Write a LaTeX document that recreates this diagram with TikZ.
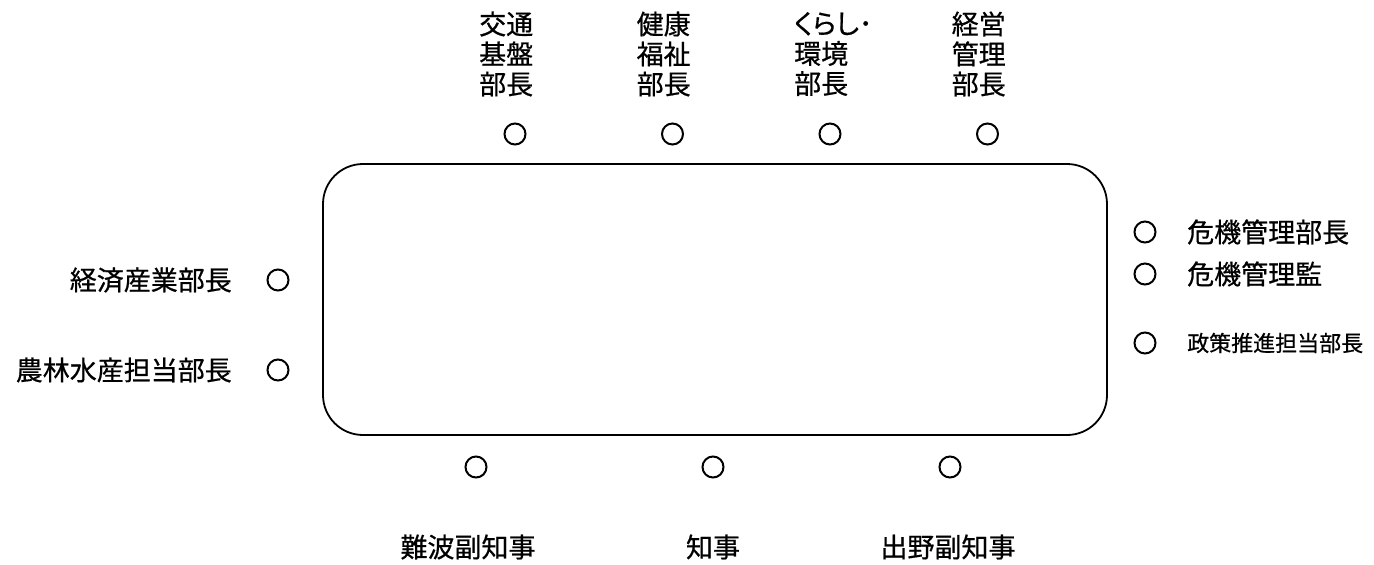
\documentclass[tikz,border=0pt]{standalone}
\usepackage{fontspec}
\setmainfont{Noto Sans CJK JP}[FakeBold=0.6]
\usepackage{tikz}
\usetikzlibrary{positioning}

\tikzset{
  seat/.style={draw, circle, line width=2pt, minimum size=21pt, inner sep=0pt},
  seattext/.style={inner sep=0pt, font=\fontsize{27}{30}\selectfont},
  seattextsmall/.style={inner sep=0pt, font=\fontsize{22}{24}\selectfont},
}

\begin{document}
\begin{tikzpicture}[x=1pt, y=-1pt]
  \useasboundingbox (0,0) rectangle (1374,565);
  % table
  \draw[line width=1.8pt, rounded corners=40pt] (323,164) rectangle (1107,435);

  % top seats
  \node[seat] (s-top-1) at (515,134) {};
  \node[seat] (s-top-2) at (672.5,134) {};
  \node[seat] (s-top-3) at (830,134) {};
  \node[seat] (s-top-4) at (987.5,134) {};
  \node[seattext, anchor=west, align=left] (l-top-1) at (479,54) {交通\\基盤\\部長};
  \node[seattext, anchor=west, align=left] (l-top-2) at (636.5,54) {健康\\福祉\\部長};
  \node[seattext, anchor=west, align=left] (l-top-3) at (794,54) {{\addfontfeatures{RawFeature=+palt}くらし･}\\環境\\部長};
  \node[seattext, anchor=west, align=left] (l-top-4) at (951.5,54) {経営\\管理\\部長};

  % left seats
  \node[seat] (s-left-1) at (278,280) {};
  \node[seat] (s-left-2) at (278,370) {};
  \node[seattext, anchor=east] (l-left-1) at (232,280) {経済産業部長};
  \node[seattext, anchor=east] (l-left-2) at (232,370) {農林水産担当部長};

  % right seats
  \node[seat] (s-right-1) at (1145,232) {};
  \node[seat] (s-right-2) at (1145,274) {};
  \node[seat] (s-right-3) at (1145,343) {};
  \node[seattext, anchor=west] (l-right-1) at (1187,232) {危機管理部長};
  \node[seattext, anchor=west] (l-right-2) at (1187,274) {危機管理監};
  \node[seattextsmall, anchor=west] (l-right-3) at (1187,343) {政策推進担当部長};

  % bottom seats
  \node[seat] (s-bot-1) at (476,467) {};
  \node[seat] (s-bot-2) at (713,467) {};
  \node[seat] (s-bot-3) at (950,467) {};
  \node[seattext] (l-bot-1) at (468,547) {難波副知事};
  \node[seattext] (l-bot-2) at (713,547) {知事};
  \node[seattext] (l-bot-3) at (948,547) {出野副知事};
\end{tikzpicture}
\end{document}
